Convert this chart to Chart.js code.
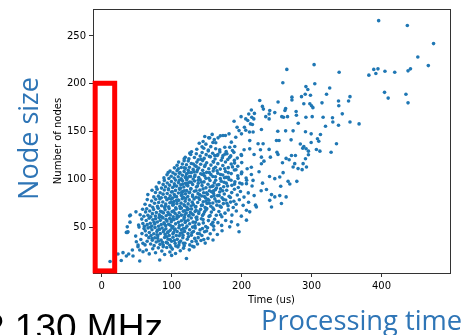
<!DOCTYPE html>
<html><head><meta charset="utf-8">
<script src="https://cdn.jsdelivr.net/npm/chart.js@4.4.1/dist/chart.umd.min.js"></script>
<style>html,body{margin:0;padding:0;background:#fff;overflow:hidden}#wrap{position:relative;width:469px;height:335px}</style>
</head><body><div id="wrap"><canvas id="c" width="469" height="335"></canvas></div>
<script>
// ---- axis values ----
const xTickValues = [0, 100, 200, 300, 400];
const yTickValues = [50, 100, 150, 200, 250];
const xRange = [-12.4, 498];
const yRange = [2, 278.2];
const xAxisTitle = 'Time (us)';
const yAxisTitle = 'Number of nodes';
// highlighted region (data coords)
const highlightX = [-9.3, 18.6];
const highlightY = [4.2, 200.5];
const sideLabel = 'Node size';
const bottomLeftLabel = '2 130 MHz';
const bottomRightLabel = 'Processing time';

// ---- scatter values [time (us), number of nodes] ----
const outerPoints = [
[396,266],[437,261],[474.5,242],[452,228],[467,219],[438,213.5],[441.5,215.6],[419,212],[405,213],[395,215.6],
[389,215],[392,210.7],[382,209],[339.5,212],[303.7,220],[264.7,215],[259,201],[304.7,200],[326,195.5],[321.5,189],
[292,197],[294.7,194],[291,189],[285.7,186.5],[298.5,188],[272,186],[272,183],[355,186.5],[353,182],[404.4,191],
[409.6,185],[435,189],[438,180],[315,180],[289,179],[297.6,179],[300,177],[302,175],[338.6,182],[339,177],
[344,168.5],[263,174],[262,172],[260,165],[257.5,165.6],[265.7,165.6],[278,171],[278.4,167],[292,165],[301,165.6],
[316.6,165],[330,164.5],[330.5,160],[320,155.5],[338.6,156.6],[355,160],[368,158],[281,158.6],[263,150.7],[273.7,150.7],
[291.4,149.7],[299.5,147.6],[312.8,146.9],[308.5,142.4],[270.8,141.3]
];
const midPoints = [
[299.5,138.5],[310.4,139.9],[284,137],[289,134.4],[287.5,132.6],[292.3,132],[295.6,129.5],[295.6,125.7],[307,131.2],[312,129.5],
[328,128.4],[335.7,137.2],[258.5,117.4],[263.7,121.9],[268,120.5],[271.4,125],[277,125],[276,116.4],[273.7,112.9],[280.8,111.2],
[286.6,110.1],[288,116.4],[292.8,112.9],[291.4,121.6],[259.4,107],[254.6,102.4],[266.5,97.9],[269,95.1],[279,97.9],[256,92.7],
[254.6,83],[263.7,81.6],[257,74.7],
[252.2,180.9],[247.5,169.8],[240.3,171.9],[239.4,168.4],[234.6,165.6],[239.4,163.2],[229.8,176.3],[231.2,173.5],[226,182.5],[218.4,169],
[214,172.6],[210.3,168.4],[206,163.2],[208.9,161.5],[214.6,164.9],[217.5,163.2],[212.7,158],[199.3,165.6],[189.3,160.7],[193.6,154.5],
[204.1,154.5],[206,151.4],[196.4,151],[199.9,147.6],[211.3,149.5],[216.5,149.5],[215.5,157.3],[228.4,152.1],[251.8,150.3],[249.9,140.6],
[253.6,140.6],[239.4,131.3],[230.8,137.2],[223.6,137.2],[227,131],[217.9,126],[211.7,131.9],[203.6,131],[199.9,125],[190.3,134.4],
[191.7,144.1],[182.1,147.6],[176.9,145.8],[173.5,145.8],[169.7,145.5],[166.4,143.4],[163.1,138.2],[154.5,143.4],[185.4,138.9],[183.1,133.6],
[176,133.6],[168.8,131],[187,130.2],[179.1,126.8],[173.5,125],[161.7,125],[250.6,128.4],[252.1,126],[241.2,123.2],[228.4,123.2],
[147.4,144.8],[153,143.4],[228.4,116.3],[211.7,140.5],[214,112.7],[216.4,98.9],[199.8,105.9],[197.4,96.1],[207,95.5],[221.2,71.1],[235.6,89.3]
];
const cloudLow = [
[12,14],[28,15],[54.4,14.6],[83,15.6],[121.2,17.2],[35.3,19.8],[44.8,19.8],
[23.3,21.9],[30.5,23.3],[38.6,21.9],[43.9,26],[59.1,24.3],[63.9,26],[51.9,29.5],[54.4,26],[68,22],[73,27.4],[77,23.2],[81,28.3],[86,25],
[90,21.3],[93,28.6],[97.5,24],[101,27],[105.6,22.4],[109,29.2],[112.4,25.3],[117,28],[125.3,26.2],[132,29.3],[100,20.4],[88,29.4],
[48.6,40.6],[49.6,34.7],[52,31.2],[59,33],[56,37],[62,31.4],[65,35.2],[67.4,39],[70,32.3],[72.4,36.2],[75,30.6],[78,34.4],[80,38.3],
[83.4,32],[85,36.4],[88,31.2],[90,39.2],[92.3,34],[95,37.3],[97.4,31],[100,35.2],[102,39.4],[105,33],[108,37.2],[110.4,31.3],
[113,35.4],[116,39],[119,33.2],[122.4,37.3],[126,31.4],[129,35],[133,38.2],[137,32.4],[142,36],[148,33.3],[152,38.2],[159.2,36.5],
[106,30.2],[94,33.3],[81.4,35.5],[118,30.5],[135,35.3],[76,38.8],[98,37],[111,34]
];
const cloudMid = [
[35.3,44.5],[36.8,44.5],[37.6,45.1],[53.4,50],[60.5,48.6],[57.6,43.2],[62.4,46.1],[63.8,41.5],[66.3,49.2],[68.1,44.4],[70.6,41.2],
[71.9,47.3],[74.5,43.1],[76.2,49.5],[78.9,45.4],[80.3,41.1],[82.7,47.6],[83.9,43.3],[86.4,49.1],[88.2,45.2],[90.7,42.4],[91.8,48.3],
[94.3,44.2],[96.6,41.3],[97.9,46.6],[100.4,49.2],[101.8,43.1],[104.2,47.4],[106.7,41.2],[107.9,45.3],[110.3,49.4],[112.6,43.6],
[113.9,47.2],[116.3,41.4],[118.5,45.5],[120.2,49.1],[123.4,43.2],[125.8,47.3],[128.1,41.5],[131.3,45.4],[133.7,49.2],[137.2,43.4],
[140.6,47.1],[143.3,41.3],[147.1,45.2],[151.4,49.3],[155.2,43.1],[160.3,47.2],[165.4,42.3],[172.1,46.2],[183.1,50.3],[196.4,45.1],
[89,46.5],[103,44.5],[117,48.5],[129,44],[144,48.5],
[36.6,50.3],[40.5,55.2],[52.8,52.1],[57.3,58.4],[58.9,53.7],[61.2,50.8],[63.7,56.9],[65.1,52.6],[67.9,59.3],[69.4,54.1],[71.8,51.2],
[73.2,57.6],[75.9,53.3],[77.1,58.8],[79.6,55.4],[81.3,50.9],[83.8,57.1],[85.2,52.7],[87.7,59.5],[89.1,54.6],[91.6,51.4],[93.4,56.3],
[95.8,53],[97.2,58.9],[99.5,55.7],[101.9,50.6],[103.3,57.8],[105.7,53.4],[107.4,59.1],[109.8,55],[111.2,51.7],[113.9,56.6],[115.3,52.2],
[117.6,58.4],[119.4,54.8],[121.9,51],[123.5,57.3],[125.8,53.6],[128.1,59.6],[130.7,55.2],[133.4,51.5],[136.2,57.9],[139,53.1],
[142.5,58.7],[145.3,54.4],[148.8,50.7],[152.6,56.8],[156.9,52.9],[161.4,58.2],[166.2,54.7],[171.5,51.8],[177.3,57],[185.5,55.5],
[207,57.3],[194.6,52.4],[98,52],[134,55],[159,55],
[40,61.8],[41,62.5],[49,66],[55,63],[58.5,68.7],[60.3,61.4],[62.8,65.9],[64.4,69.2],[66.1,62.3],[68.7,66.8],[70.2,60.9],[72.5,64.1],
[74.3,68.5],[76.8,61.7],[78.2,65.3],[80.9,69.8],[82.4,63],[84.1,66.6],[86.6,60.4],[88.3,64.9],[90.7,68.1],[92.2,61.9],[94.8,65.6],
[96.4,69.4],[98.1,62.7],[100.6,66.2],[102.3,60.8],[104.9,64.4],[106.5,68.9],[108.2,61.3],[110.8,65.1],[112.4,69.6],[114.1,62.5],
[116.7,66.7],[118.3,60.2],[120.9,64.8],[122.6,68.3],[124.2,61.6],[126.8,65.4],[128.5,69],[130.9,62.9],[133.6,66.4],[136.1,60.6],
[138.8,64.2],[141.4,68.6],[144.2,62.1],[147.1,66],[150.3,69.3],[153.5,61.2],[156.8,65.7],[160.2,68.4],[163.9,62.4],[167.6,66.3],
[171.8,60.9],[176.3,64.6],[181,68],[186.2,62.6],[192.5,66.9],[199.7,61.5],[211.7,66],[207,67.7],[135,67.5],[95.5,63.5],[118.9,67.1],[145.7,63.8]
];
const cloudHigh = [
[65.2,78.8],[62,74],[68.9,72.6],[71.4,77.3],[73,70.8],[75.6,74.9],[77.3,79.1],[79.8,71.7],[81.5,75.8],[83.1,79.6],[85.7,72.4],
[87.4,76.3],[89.9,70.5],[91.6,74.1],[93.2,78.7],[95.8,71.2],[97.5,75.5],[99.1,79.3],[101.7,72.9],[103.4,76.8],[105.9,70.2],[107.6,74.6],
[109.2,78.2],[111.8,71.9],[113.5,75.1],[115.1,79.8],[117.7,73.3],[119.4,77],[121.9,70.7],[123.6,74.3],[125.2,78.5],[127.8,72.1],
[129.5,76.1],[132.1,79.4],[134.7,71.4],[137.3,75.7],[139.9,78.9],[142.6,72.7],[145.2,76.5],[147.9,70.4],[150.6,74.8],[153.3,78.1],
[156.1,71.8],[158.9,75.3],[161.8,79.5],[164.7,73],[167.7,76.9],[170.8,70.9],[174,74.6],[177.3,78.4],[180.7,72.3],[184.3,76.2],
[188.1,70.6],[192.2,74],[196.8,78.6],[202.3,72.8],[210,76],[220,73],[131,73.5],[102.5,73.8],[149.2,77.2],[118.6,72.4],[240.3,78],[242.8,71.1],
[66,84],[72,88.5],[74.5,81.6],[76.9,86.2],[79.3,89.7],[81.1,82.4],[83.6,85.9],[85.2,80.7],[87.8,84.5],[89.5,88.9],[91.1,81.3],
[93.7,85.2],[95.4,89.1],[97.9,82.8],[99.6,86.7],[101.2,80.3],[103.8,84],[105.5,88.4],[107.1,81.9],[109.7,85.7],[111.4,89.5],[113.9,83.2],
[115.6,87.1],[117.2,80.9],[119.8,84.8],[121.5,88.2],[123.1,82],[125.7,86.4],[127.4,89.8],[129.9,83.5],[132.5,87.6],[135.1,81.2],
[137.8,85],[140.4,88.7],[143.1,82.6],[145.8,86],[148.5,80.5],[151.3,84.3],[154.1,88],[156.9,81.7],[159.8,85.4],[162.7,89.2],
[165.7,83],[168.8,86.8],[172,80.8],[175.3,84.7],[178.7,88.6],[182.2,82.2],[185.9,86.1],[189.8,89.6],[193.9,83.6],[198.4,87.3],
[203.5,81.4],[209.6,85.8],[218,83],[228,88],[242.8,84],[247.5,81.6],[160.6,82.9],[114.2,86.2],[138.9,80.8],
[78,92],[82,96.5],[85.5,90.8],[87.9,94.7],[89.6,98.9],[91.2,92.3],[93.8,96.1],[95.5,90.2],[97.1,93.9],[99.7,97.8],[101.4,91.5],
[103.9,95.4],[105.6,99.2],[107.2,92.9],[109.8,96.6],[111.5,90.6],[113.1,94.3],[115.7,98.4],[117.4,91.9],[119.9,95.8],[121.6,99.6],
[123.2,93.2],[125.8,97.1],[127.5,90.4],[130.1,94.6],[132.8,98.2],[135.4,92],[138.1,95.9],[140.8,99.4],[143.5,93.5],[146.3,97.3],
[149.1,91.1],[152,94.9],[154.9,98.7],[157.9,92.6],[161,96.4],[164.2,90.9],[167.5,94.5],[170.9,98.1],[174.4,92.2],[178.1,96],
[182,99.8],[186.1,93.7],[190.5,97.5],[195.3,91.4],[200.6,95.2],[207.3,99],[215,93],[230,96],[247.5,100.7],[159.3,93.1],[121.4,94.2],
[89,101.5],[95,107],[93.4,104.8],[96.1,100.9],[97.8,108.6],[99.4,103.2],[101.9,106.9],[103.6,101.4],[105.2,105.3],[107.8,109.1],
[109.5,102.7],[111.1,106.4],[113.7,100.5],[115.4,104.2],[117.9,108.3],[119.6,101.8],[121.2,105.7],[123.8,109.5],[125.5,103],[128.1,107],
[130.8,100.3],[133.4,104.6],[136.1,108],[138.8,101.9],[141.6,105.8],[144.4,109.4],[147.2,103.5],[150.1,107.3],[153.1,101.1],[156.2,104.9],
[159.4,108.7],[162.7,102.6],[166.1,106.4],[169.6,100.7],[173.2,104.5],[177,108.2],[181,102.2],[185.2,106],[189.7,109.8],[194.6,103.7],
[200.2,107.5],[206.5,101.4],[214,105],[225,108],[240,103],[120.4,102.9],[146.1,106.1],[175.6,101.6],
[104,112],[110,118],[107.8,114.6],[109.5,110.9],[113.7,112.3],[115.4,116.1],[117.9,119.4],[119.6,111.5],[121.2,115.3],[123.8,119.1],
[125.5,112.7],[128.1,116.6],[130.8,110.4],[133.4,114.2],[136.1,118],[138.8,111.9],[141.6,115.8],[144.4,119.6],[147.2,113.5],[150.1,117.3],
[153.1,111],[156.2,114.9],[159.4,118.7],[162.7,112.6],[166.1,116.4],[169.6,110.7],[173.2,114.5],[177,118.2],[181,112.2],[185.2,116],
[189.7,119.8],[194.6,113.7],[200.2,117.5],[208,111],[232,119],[135,113.6],[160.3,111.2],
[118,121.5],[126,127.4],[119.5,123.1],[128.5,128.8],[124.7,121.6],[127.3,125.9],[132.6,122.8],[135.3,126.7],[138,120.5],[140.8,124.3],
[143.6,128.1],[146.5,121.9],[149.4,125.8],[152.4,129.6],[155.5,123.5],[158.7,127.3],[162,121.2],[165.4,124.9],[168.9,128.7],[172.5,122.6],
[176.3,126.4],[180.3,120.7],[184.5,124.5],[189,128.2],[193.9,122.2],[199.5,126],
[136,131.5],[139.5,137.8],[143.5,134],[146,132.5],[149,136.8],[152.5,130.6],[156,134.2],[159,138.6],[163,132],[145,139.5],[158,147],[161,141.5]
];
const cloudCore = [
[92,58],[97,63],[103,67],[108,62],[114,70],[119,63],[124,69],[129,64],[134,71],[139,66],[144,73],[149,68],[154,75],[159,70],[164,77],
[169,72],[174,79],[179,75],[184,81],[189,77],
[100,76],[105,82],[110,78],[115,84],[120,80],[125,86],[130,82],[135,88],[140,84],[145,90],[150,86],[155,92],[160,88],[165,94],[170,90],
[175,97],[180,93],[185,99],[190,95],[195,101],
[104,93],[111,99],[116,95],[122,101],[128,97],[133,103],[138,99],[144,105],[149,101],[154,107],[159,103],[165,109],[170,105],[176,111],
[181,107],[187,113],[192,110],
[112,107],[118,112],[124,107],[131,116],[137,110],[142,121],[148,115],[154,124],[160,118],[166,126],[171,120],[178,129],[183,123],[190,117],
[82,60],[86,66],[91,72],[96,80],[101,87],[107,78],[113,91],[118,88],[123,96],[127,103],[132,108],[137,93],[143,97],[147,82],[152,79],
[157,87],[163,99],[168,83],[173,88],[178,102],
[70,50],[75,55],[80,47],[85,61],[90,53],[95,45],[100,58],[105,48],[110,61],[115,44],[120,56],[125,62],[130,50],[135,60],[140,43],
[145,58],[150,46],[155,62],[160,51],[170,63],
[72,38],[79,42],[87,34],[93,40],[99,29],[104,36],[111,41],[117,33],[124,40],[130,30],[138,39],[146,37]
];

// build the table the library needs
const allPoints = outerPoints.concat(midPoints, cloudLow, cloudMid, cloudHigh, cloudCore);
const timeUs = allPoints.map(p => p[0]);
const nodeCounts = allPoints.map(p => p[1]);
const scatterData = timeUs.map((t, i) => ({x: t, y: nodeCounts[i]}));

const tickFont = {family: '"DejaVu Sans", sans-serif', size: 10};

const overlayPlugin = {
  id: 'overlay',
  afterDraw(chart) {
    const ctx = chart.ctx, ca = chart.chartArea;
    const xs = chart.scales.x, ys = chart.scales.y;
    ctx.save();
    // top & right spines
    ctx.strokeStyle = '#333';
    ctx.lineWidth = 1;
    ctx.beginPath();
    ctx.moveTo(Math.round(ca.left), Math.round(ca.top) + 0.5);
    ctx.lineTo(Math.round(ca.right) + 1, Math.round(ca.top) + 0.5);
    ctx.moveTo(Math.round(ca.right) + 0.5, Math.round(ca.top));
    ctx.lineTo(Math.round(ca.right) + 0.5, Math.round(ca.bottom) + 1);
    ctx.stroke();
    // red highlight box
    const x1 = xs.getPixelForValue(highlightX[0]), x2 = xs.getPixelForValue(highlightX[1]);
    const y1 = ys.getPixelForValue(highlightY[1]), y2 = ys.getPixelForValue(highlightY[0]);
    ctx.strokeStyle = '#ff0000';
    ctx.lineWidth = 5;
    ctx.strokeRect(x1, y1, x2 - x1, y2 - y1);
    // slide texts
    ctx.fillStyle = '#2E75B6';
    ctx.font = '27px "Open Sans"';
    ctx.textBaseline = 'alphabetic';
    ctx.save();
    ctx.translate(37.5, 138.5);
    ctx.rotate(-Math.PI / 2);
    ctx.textAlign = 'center';
    ctx.fillText(sideLabel, 0, 0);
    ctx.restore();
    ctx.textAlign = 'left';
    ctx.font = '27.3px "Open Sans"';
    ctx.fillText(bottomRightLabel, 261, 330);
    ctx.fillStyle = '#000';
    ctx.font = '37px "Liberation Sans"';
    ctx.fillText(bottomLeftLabel, -16, 340);
    ctx.restore();
  }
};

new Chart(document.getElementById('c'), {
  type: 'scatter',
  data: {datasets: [{
    data: scatterData,
    backgroundColor: '#1f77b4',
    borderWidth: 0,
    pointRadius: 1.8,
    pointHoverRadius: 1.8
  }]},
  options: {
    responsive: false,
    animation: false,
    devicePixelRatio: 1,
    layout: {padding: {left: 0, top: 8, right: 19, bottom: 0}},
    plugins: {legend: {display: false}, tooltip: {enabled: false}},
    scales: {
      x: {
        type: 'linear', min: xRange[0], max: xRange[1],
        afterBuildTicks: s => { s.ticks = xTickValues.map(v => ({value: v})); },
        afterFit: s => { s.height = 62; },
        ticks: {font: tickFont, color: '#000', padding: 3, maxRotation: 0},
        grid: {drawOnChartArea: false, drawTicks: true, tickLength: 4, tickColor: '#333'},
        border: {display: true, color: '#333', width: 1},
        title: {display: true, text: xAxisTitle, font: tickFont, color: '#000', padding: {top: 0, bottom: 29}}
      },
      y: {
        type: 'linear', min: yRange[0], max: yRange[1],
        afterBuildTicks: s => { s.ticks = yTickValues.map(v => ({value: v})); },
        afterFit: s => { s.width = 93; },
        ticks: {font: tickFont, color: '#000', padding: 3},
        grid: {drawOnChartArea: false, drawTicks: true, tickLength: 4, tickColor: '#333'},
        border: {display: true, color: '#333', width: 1},
        title: {display: true, text: yAxisTitle, font: tickFont, color: '#000', padding: {top: 52, bottom: 0}}
      }
    }
  },
  plugins: [overlayPlugin]
});
</script>
</body></html>
